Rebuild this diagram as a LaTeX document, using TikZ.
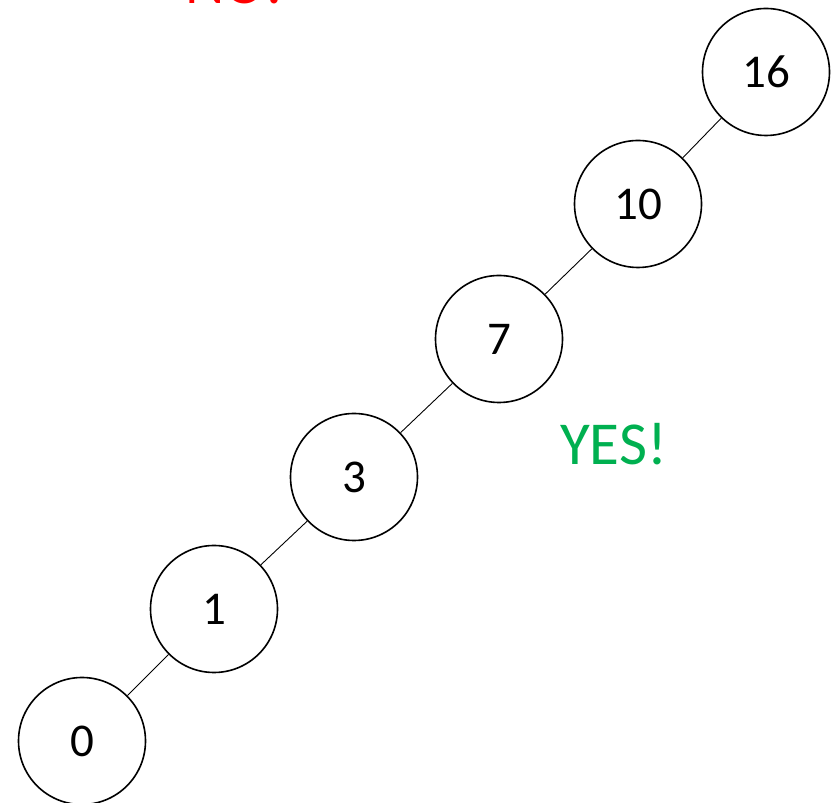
\documentclass[tikz,border=0pt]{standalone}
\usepackage{fontspec}
\setmainfont{Carlito}
\usepackage{xcolor}
\usepackage{tikz}
\usetikzlibrary{positioning}

\definecolor{nored}{RGB}{255,0,0}
\definecolor{yesgreen}{RGB}{0,176,80}

\begin{document}
\begin{tikzpicture}[
  x=1pt, y=1pt,
  key/.style={draw, circle, line width=1.6pt, minimum size=127pt, inner sep=0pt, font=\fontsize{47}{50}\selectfont},
  link/.style={line width=0.9pt},
  verdict/.style={anchor=base west, inner sep=0pt, font=\fontsize{61}{64}\selectfont}
]
\useasboundingbox (0,0) rectangle (838,803);

\node[key] (n0) at (82,62) {0};
\node[key] (n1) at (214,194) {1};
\node[key] (n3) at (354,326) {3};
\node[key] (n7) at (499,464) {7};
\node[key] (n10) at (638,599) {10};
\node[key] (n16) at (766,731) {16};

\draw[link] (n0) -- (n1);
\draw[link] (n1) -- (n3);
\draw[link] (n3) -- (n7);
\draw[link] (n7) -- (n10);
\draw[link] (n10) -- (n16);

\node[verdict, text=nored] (no) at (185,799) {NO!};
\node[verdict, text=yesgreen] (yes) at (560,338) {YES!};
\end{tikzpicture}
\end{document}
